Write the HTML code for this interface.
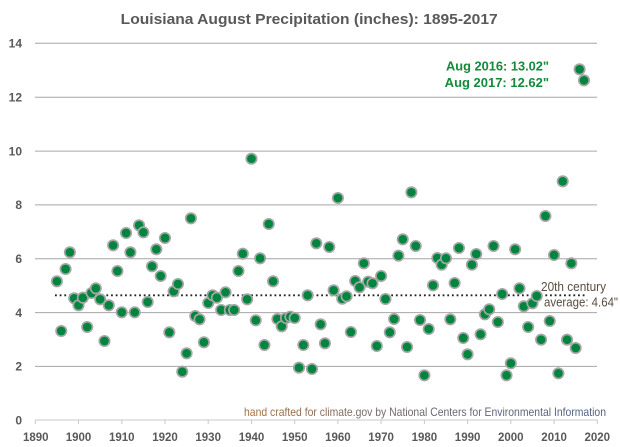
<!DOCTYPE html>
<html>
<head>
<meta charset="utf-8">
<style>
html,body{margin:0;padding:0;background:#fff;}
svg{display:block;}
text{font-family:"Liberation Sans", Arial, sans-serif;}
</style>
</head>
<body>
<svg width="620" height="447" viewBox="0 0 620 447" xmlns="http://www.w3.org/2000/svg">
<defs>
<linearGradient id="cred" x1="0" x2="1" y1="0" y2="0"><stop offset="0" stop-color="#a8733f"/><stop offset="0.35" stop-color="#7a6a6a"/><stop offset="1" stop-color="#4f6288"/></linearGradient>
</defs>
<rect width="620" height="447" fill="#fff"/>
<text x="120.7" y="24" font-size="15" font-weight="bold" fill="#595959" textLength="377" lengthAdjust="spacingAndGlyphs">Louisiana August Precipitation (inches): 1895-2017</text>
<path d="M35 43.3H597M35 97.2H597M35 151.1H597M35 204.9H597M35 258.7H597M35 312.6H597M35 366.4H597" stroke="#a6a6a6" stroke-width="1" fill="none"/>
<path d="M35 420H597.5M35.3 420V424M78.5 420V424M121.8 420V424M165 420V424M208.2 420V424M251.5 420V424M294.7 420V424M337.9 420V424M381.1 420V424M424.4 420V424M467.6 420V424M510.8 420V424M554.1 420V424M597.3 420V424" stroke="#c8c8c8" stroke-width="1" fill="none"/>
<g font-size="12" font-weight="bold" fill="#595959" text-anchor="end">
<text x="22" y="47.6">14</text><text x="22" y="101.5">12</text><text x="22" y="155.4">10</text><text x="22" y="209.2">8</text>
<text x="22" y="263">6</text><text x="22" y="316.9">4</text><text x="22" y="370.7">2</text><text x="22" y="424.3">0</text>
</g>
<g font-size="11.5" font-weight="bold" fill="#595959" text-anchor="middle">
<text x="35.8" y="441">1890</text><text x="78.5" y="441">1900</text><text x="121.8" y="441">1910</text><text x="165" y="441">1920</text><text x="208.2" y="441">1930</text>
<text x="251.5" y="441">1940</text><text x="294.7" y="441">1950</text><text x="337.9" y="441">1960</text><text x="381.1" y="441">1970</text><text x="424.4" y="441">1980</text>
<text x="467.6" y="441">1990</text><text x="510.8" y="441">2000</text><text x="554.1" y="441">2010</text><text x="597.3" y="441">2020</text>
</g>
<line x1="55" x2="586" y1="295.3" y2="295.3" stroke="#222" stroke-width="1.8" stroke-dasharray="1.8 2.87"/>
<g fill="#00853e" stroke="#a6a6a6" stroke-width="1.7">
<circle cx="56.92" cy="281.3" r="5.2"/><circle cx="61.24" cy="331" r="5.2"/><circle cx="65.56" cy="269" r="5.2"/><circle cx="69.88" cy="252.3" r="5.2"/><circle cx="74.21" cy="298.3" r="5.2"/>
<circle cx="78.53" cy="305.3" r="5.2"/><circle cx="82.85" cy="297.7" r="5.2"/><circle cx="87.18" cy="327" r="5.2"/><circle cx="91.5" cy="293" r="5.2"/><circle cx="95.82" cy="288.3" r="5.2"/>
<circle cx="100.15" cy="299.3" r="5.2"/><circle cx="104.47" cy="341" r="5.2"/><circle cx="108.79" cy="305.3" r="5.2"/><circle cx="113.11" cy="245.3" r="5.2"/><circle cx="117.44" cy="271" r="5.2"/>
<circle cx="121.76" cy="312.3" r="5.2"/><circle cx="126.08" cy="233" r="5.2"/><circle cx="130.41" cy="252.3" r="5.2"/><circle cx="134.73" cy="312.3" r="5.2"/><circle cx="139.05" cy="225.3" r="5.2"/>
<circle cx="143.38" cy="232.3" r="5.2"/><circle cx="147.7" cy="302" r="5.2"/><circle cx="152.02" cy="266.3" r="5.2"/><circle cx="156.34" cy="249.3" r="5.2"/><circle cx="160.67" cy="276" r="5.2"/>
<circle cx="164.99" cy="238" r="5.2"/><circle cx="169.31" cy="332.3" r="5.2"/><circle cx="173.64" cy="291.3" r="5.2"/><circle cx="177.96" cy="284" r="5.2"/><circle cx="182.28" cy="371.7" r="5.2"/>
<circle cx="186.61" cy="353.3" r="5.2"/><circle cx="190.93" cy="218.3" r="5.2"/><circle cx="195.25" cy="316" r="5.2"/><circle cx="199.57" cy="319.3" r="5.2"/><circle cx="203.9" cy="342.3" r="5.2"/>
<circle cx="208.22" cy="303" r="5.2"/><circle cx="212.54" cy="295.3" r="5.2"/><circle cx="216.87" cy="297.7" r="5.2"/><circle cx="221.19" cy="310" r="5.2"/><circle cx="225.51" cy="292.3" r="5.2"/>
<circle cx="229.84" cy="310" r="5.2"/><circle cx="234.16" cy="310" r="5.2"/><circle cx="238.48" cy="271" r="5.2"/><circle cx="242.8" cy="253.7" r="5.2"/><circle cx="247.13" cy="299.3" r="5.2"/>
<circle cx="251.45" cy="158.7" r="5.2"/><circle cx="255.77" cy="320.3" r="5.2"/><circle cx="260.1" cy="258.3" r="5.2"/><circle cx="264.42" cy="345" r="5.2"/><circle cx="268.74" cy="224" r="5.2"/>
<circle cx="273.07" cy="281.3" r="5.2"/><circle cx="277.39" cy="319" r="5.2"/><circle cx="281.71" cy="326.3" r="5.2"/><circle cx="286.03" cy="318" r="5.2"/><circle cx="290.36" cy="316.7" r="5.2"/>
<circle cx="294.68" cy="318" r="5.2"/><circle cx="299" cy="367.7" r="5.2"/><circle cx="303.33" cy="345" r="5.2"/><circle cx="307.65" cy="295.3" r="5.2"/><circle cx="311.97" cy="369" r="5.2"/>
<circle cx="316.3" cy="243.3" r="5.2"/><circle cx="320.62" cy="324.3" r="5.2"/><circle cx="324.94" cy="343.3" r="5.2"/><circle cx="329.26" cy="247" r="5.2"/><circle cx="333.59" cy="290.3" r="5.2"/>
<circle cx="337.91" cy="198" r="5.2"/><circle cx="342.23" cy="298.7" r="5.2"/><circle cx="346.56" cy="296.3" r="5.2"/><circle cx="350.88" cy="332" r="5.2"/><circle cx="355.2" cy="281" r="5.2"/>
<circle cx="359.53" cy="287.3" r="5.2"/><circle cx="363.85" cy="263.3" r="5.2"/><circle cx="368.17" cy="281.7" r="5.2"/><circle cx="372.49" cy="283.3" r="5.2"/><circle cx="376.82" cy="346" r="5.2"/>
<circle cx="381.14" cy="276" r="5.2"/><circle cx="385.46" cy="299" r="5.2"/><circle cx="389.79" cy="332.3" r="5.2"/><circle cx="394.11" cy="319" r="5.2"/><circle cx="398.43" cy="255.7" r="5.2"/>
<circle cx="402.76" cy="239.3" r="5.2"/><circle cx="407.08" cy="347" r="5.2"/><circle cx="411.4" cy="192.3" r="5.2"/><circle cx="415.72" cy="246" r="5.2"/><circle cx="420.05" cy="320" r="5.2"/>
<circle cx="424.37" cy="375.3" r="5.2"/><circle cx="428.69" cy="329" r="5.2"/><circle cx="433.02" cy="285.3" r="5.2"/><circle cx="437.34" cy="258" r="5.2"/><circle cx="441.66" cy="264.7" r="5.2"/>
<circle cx="445.99" cy="258.3" r="5.2"/><circle cx="450.31" cy="319.3" r="5.2"/><circle cx="454.63" cy="283" r="5.2"/><circle cx="458.95" cy="248" r="5.2"/><circle cx="463.28" cy="338" r="5.2"/>
<circle cx="467.6" cy="354.3" r="5.2"/><circle cx="471.92" cy="264.7" r="5.2"/><circle cx="476.25" cy="254" r="5.2"/><circle cx="480.57" cy="334.3" r="5.2"/><circle cx="484.89" cy="314.3" r="5.2"/>
<circle cx="489.22" cy="309.3" r="5.2"/><circle cx="493.54" cy="246" r="5.2"/><circle cx="497.86" cy="322" r="5.2"/><circle cx="502.18" cy="294" r="5.2"/><circle cx="506.51" cy="375.3" r="5.2"/>
<circle cx="510.83" cy="363.3" r="5.2"/><circle cx="515.15" cy="249.3" r="5.2"/><circle cx="519.48" cy="288.3" r="5.2"/><circle cx="523.8" cy="306.3" r="5.2"/><circle cx="528.12" cy="327" r="5.2"/>
<circle cx="532.45" cy="303.3" r="5.2"/><circle cx="536.77" cy="296" r="5.2"/><circle cx="541.09" cy="339.7" r="5.2"/><circle cx="545.41" cy="216" r="5.2"/><circle cx="549.74" cy="321" r="5.2"/>
<circle cx="554.06" cy="255" r="5.2"/><circle cx="558.38" cy="373.3" r="5.2"/><circle cx="562.71" cy="181.3" r="5.2"/><circle cx="567.03" cy="339.7" r="5.2"/><circle cx="571.35" cy="263.3" r="5.2"/>
<circle cx="575.68" cy="348" r="5.2"/><circle cx="579.6" cy="69.3" r="5.2"/><circle cx="584" cy="80.3" r="5.2"/>
</g>
<text x="446" y="70.5" font-size="12.5" font-weight="bold" fill="#138a3a" textLength="103" lengthAdjust="spacingAndGlyphs">Aug 2016: 13.02"</text>
<text x="444.7" y="87" font-size="12.5" font-weight="bold" fill="#138a3a" textLength="104.3" lengthAdjust="spacingAndGlyphs">Aug 2017: 12.62"</text>
<text x="541" y="291" font-size="12.5" fill="#5a4c40" textLength="65" lengthAdjust="spacingAndGlyphs">20th century</text>
<text x="544" y="306.5" font-size="12.5" fill="#5a4c40" textLength="74" lengthAdjust="spacingAndGlyphs">average: 4.64"</text>
<text x="244" y="416" font-size="12" fill="url(#cred)" textLength="362" lengthAdjust="spacingAndGlyphs">hand crafted for climate.gov by National Centers for Environmental Information</text>
</svg>
</body>
</html>
